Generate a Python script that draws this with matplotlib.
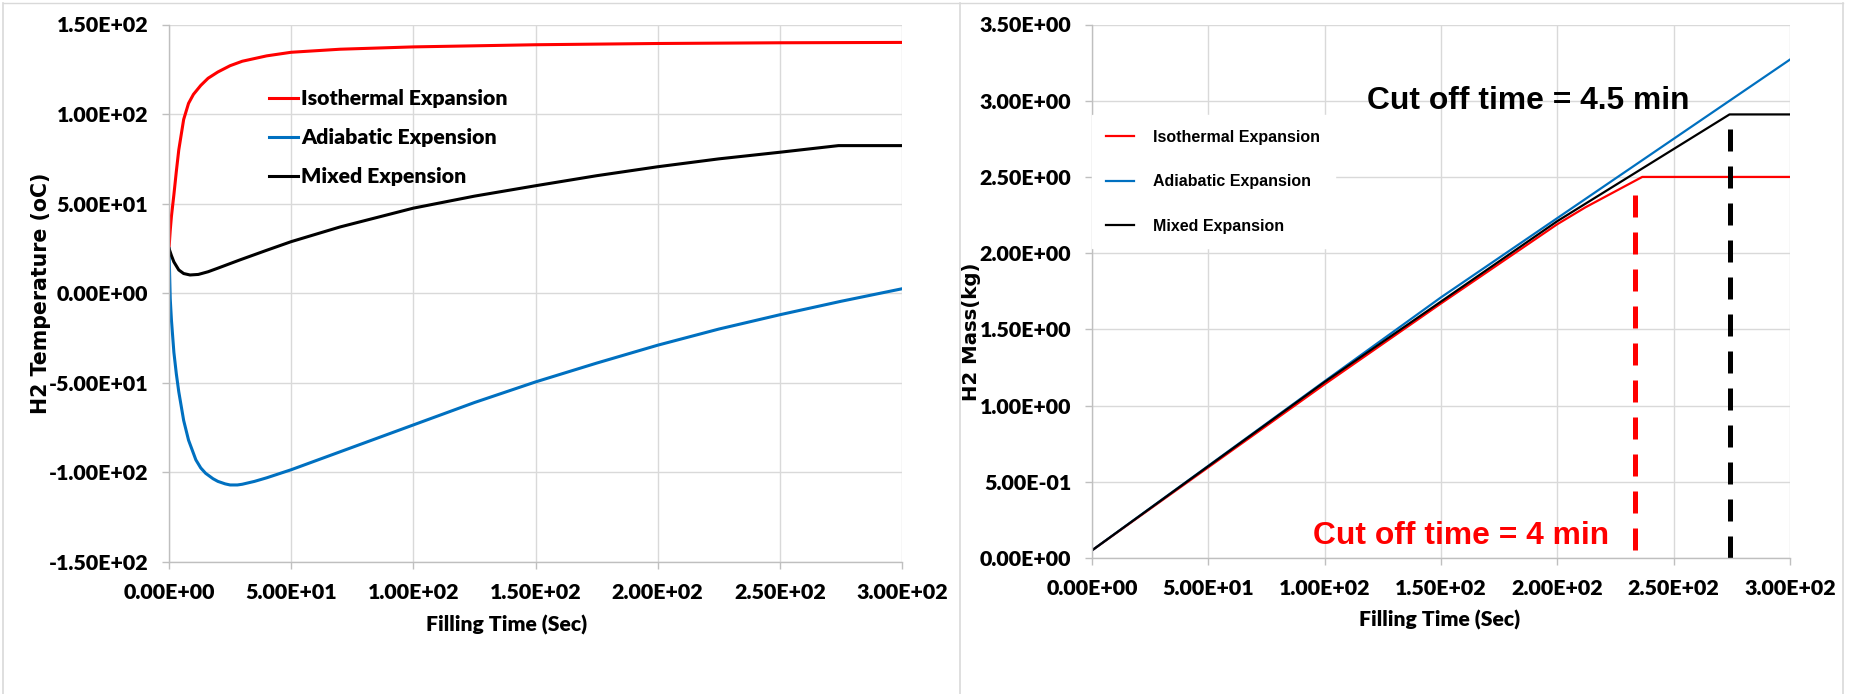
import matplotlib
matplotlib.use("Agg")
import matplotlib.pyplot as plt
from matplotlib.lines import Line2D
from matplotlib.ticker import FormatStrFormatter, MultipleLocator

# left chart: H2 temperature vs filling time
t_iso = [0, 0.5, 1, 2, 3, 4, 6, 8, 10, 13, 16, 20, 25, 30, 40, 50, 70, 100, 150, 200, 250, 300]
T_iso = [25, 35, 43, 55, 68, 80, 97, 106, 111, 116, 120, 123.5, 127, 129.5, 132.5, 134.5, 136.2, 137.5, 138.7, 139.4, 139.8, 140]

t_adi = [0, 0.5, 1, 2, 3, 4, 6, 8, 11, 13, 15, 18, 20, 23, 25, 28, 30, 35, 40, 50, 60, 75, 100, 125, 150, 175, 200, 225, 250, 275, 300]
T_adi = [25, -3, -15, -33, -45, -55, -71, -82, -93, -97.5, -100.5, -103.5, -105, -106.4, -107, -107, -106.6, -105, -103, -98.5, -93.5, -86, -73.5, -61, -49.5, -39, -29, -20, -12, -4.5, 2.5]

t_mix = [0, 1, 2, 4, 6, 8.6, 12, 16, 20, 29, 40, 50, 70, 100, 125, 150, 175, 200, 225, 250, 274, 300]
T_mix = [25, 21, 17.5, 13, 11, 10.2, 10.5, 12, 14, 18.6, 24, 28.8, 37, 47.5, 54.2, 60, 65.6, 70.6, 75, 78.7, 82.4, 82.4]

# right chart: H2 mass vs filling time
t_m_iso = [0, 100, 150, 200, 212, 236.5, 300]
m_iso = [0.05, 1.14, 1.67, 2.19, 2.30, 2.50, 2.50]
t_m_adi = [0, 100, 150, 200, 250, 300]
m_adi = [0.05, 1.16, 1.71, 2.23, 2.75, 3.27]
t_m_mix = [0, 100, 200, 274, 300]
m_mix = [0.05, 1.155, 2.21, 2.91, 2.91]

cut_iso_t = 233.5
cut_iso_y = [0.05, 2.40]
cut_mix_t = 274.2
cut_mix_y = [0.0, 2.83]

labels = ["Isothermal Expansion", "Adiabatic Expension", "Mixed Expension"]
labels_r = ["Isothermal Expansion", "Adiabatic Expansion", "Mixed Expansion"]
RED, BLUE, BLACK = "#ff0000", "#0070c0", "#000000"

cal = "Lato"
ari = "Liberation Sans"
TICK_FS = 15.4

fig = plt.figure(figsize=(18.51, 6.94), dpi=100)
fig.patch.set_facecolor("white")

def style_axes(ax):
    for s in ["top", "right"]:
        ax.spines[s].set_visible(False)
    for s in ["left", "bottom"]:
        ax.spines[s].set_color("#bfbfbf")
        ax.spines[s].set_linewidth(1.0)
    ax.grid(True, color="#d9d9d9", linewidth=1.0)
    ax.set_axisbelow(True)
    ax.tick_params(direction="out", length=5, width=1, color="#bfbfbf")
    ax.tick_params(axis="y", pad=10)
    ax.tick_params(axis="x", pad=10)
    for lab in ax.get_xticklabels() + ax.get_yticklabels():
        lab.set_fontfamily(cal)
        lab.set_fontweight("heavy")
        lab.set_fontsize(TICK_FS)

ax1 = fig.add_axes([169/1851, 132/694, 733/1851, 537.5/694])
ax1.plot(t_iso, T_iso, color=RED, lw=2.2, label=labels[0])
ax1.plot(t_adi, T_adi, color=BLUE, lw=2.2, label=labels[1])
ax1.plot(t_mix, T_mix, color=BLACK, lw=2.2, label=labels[2])
ax1.set_xlim(0, 300)
ax1.set_ylim(-150, 150)
ax1.xaxis.set_major_locator(MultipleLocator(50))
ax1.yaxis.set_major_locator(MultipleLocator(50))
ax1.xaxis.set_major_formatter(FormatStrFormatter("%.2E"))
ax1.yaxis.set_major_formatter(FormatStrFormatter("%.2E"))
style_axes(ax1)
ax1.set_xlabel("Filling Time (Sec)", fontfamily=cal, fontweight="heavy", fontsize=15.2)
ax1.xaxis.set_label_coords(0.46, -0.099)
ax1.set_ylabel("H2 Temperature (oC)", fontfamily="DejaVu Sans", fontweight="bold", fontsize=14.8)
ax1.yaxis.set_label_coords(-0.161, 0.5)
leg1 = ax1.legend(loc="upper left", bbox_to_anchor=(0.136, 0.880), frameon=False,
                  borderpad=0, borderaxespad=0, handlelength=1.4, handletextpad=0.12,
                  labelspacing=0.95, prop={"family": cal, "weight": "heavy", "size": 15.3})

ax2 = fig.add_axes([1092/1851, 136/694, 698/1851, 533.5/694])
ax2.plot(t_m_iso, m_iso, color=RED, lw=1.6, label=labels_r[0])
ax2.plot(t_m_adi, m_adi, color=BLUE, lw=1.6, label=labels_r[1])
ax2.plot(t_m_mix, m_mix, color=BLACK, lw=1.6, label=labels_r[2])
ax2.plot([cut_iso_t, cut_iso_t], cut_iso_y, color=RED, lw=3.6, linestyle=(0, (4.4, 3.0)))
ax2.plot([cut_mix_t, cut_mix_t], cut_mix_y, color=BLACK, lw=3.6, linestyle=(0, (4.4, 3.0)))
ax2.set_xlim(0, 300)
ax2.set_ylim(0, 3.5)
ax2.xaxis.set_major_locator(MultipleLocator(50))
ax2.yaxis.set_major_locator(MultipleLocator(0.5))
ax2.xaxis.set_major_formatter(FormatStrFormatter("%.2E"))
ax2.yaxis.set_major_formatter(FormatStrFormatter("%.2E"))
style_axes(ax2)
ax2.set_xlabel("Filling Time (Sec)", fontfamily=cal, fontweight="heavy", fontsize=15.2)
ax2.xaxis.set_label_coords(0.4986, -0.0975)
ax2.set_ylabel("H2 Mass(kg)", fontfamily="DejaVu Sans", fontweight="bold", fontsize=14.2)
ax2.yaxis.set_label_coords(-0.1586, 0.425)
handles, _ = ax2.get_legend_handles_labels()
leg2 = ax2.legend(handles[:3], labels_r, loc="upper left", bbox_to_anchor=(0.0, 0.83),
                  frameon=True, facecolor="white", edgecolor="white", framealpha=1,
                  fancybox=False, borderpad=0.9, borderaxespad=0, handlelength=1.7,
                  handletextpad=1.25, labelspacing=1.85,
                  prop={"family": ari, "weight": "bold", "size": 11.5})
ax2.text(118.2, 3.0, "Cut off time = 4.5 min", fontfamily=ari, fontweight="bold",
         fontsize=22.9, color="black", ha="left", va="center")
ax2.text(95.2, 0.145, "Cut off time = 4 min", fontfamily=ari, fontweight="bold",
         fontsize=22.9, color=RED, ha="left", va="center")

# chart frames
W, H = 1851, 694
fc = "#d9d9d9"
fig.add_artist(Line2D([3/W, 1843/W], [1 - 3/H, 1 - 3/H], color=fc, lw=1, transform=fig.transFigure))
for xv in [3, 960, 1843]:
    fig.add_artist(Line2D([xv/W, xv/W], [0, 1 - 3/H], color=fc, lw=1.2, transform=fig.transFigure))

fig.savefig("out.png", dpi=100)
